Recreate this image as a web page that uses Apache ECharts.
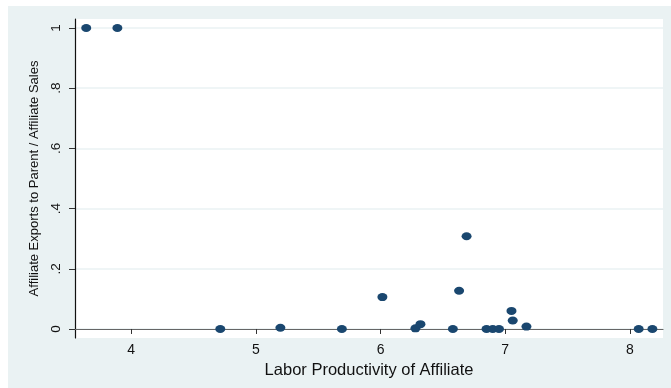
<!DOCTYPE html>
<html><head><meta charset="utf-8">
<script src="https://cdn.jsdelivr.net/npm/echarts@6/dist/echarts.min.js"></script>
<style>html,body{margin:0;padding:0;background:#fff}#c{width:671px;height:388px}</style>
</head><body><div id="c"></div>
<script>
var productivity = [3.64, 3.89, 4.715, 5.197, 5.69, 6.015, 6.28, 6.32, 6.58, 6.63, 6.69, 6.85, 6.90, 6.95, 7.05, 7.06, 7.17, 8.07, 8.18];
var exportShare  = [1.0, 1.0, 0.0, 0.004, 0.0, 0.106, 0.002, 0.016, 0.0, 0.127, 0.308, 0.0, 0.0, 0.0, 0.06, 0.028, 0.008, 0.0, 0.0];
var xTicks = [4, 5, 6, 7, 8];
var yTicks = [0, 0.2, 0.4, 0.6, 0.8, 1];
var yTickLabels = ['0', '.2', '.4', '.6', '.8', '1'];
var xTitle = 'Labor Productivity of Affiliate';
var yTitle = 'Affiliate Exports to Parent / Affiliate Sales';

var points = productivity.map(function (x, i) { return [x, exportShare[i]]; });
var font = '"Liberation Sans", Arial, Helvetica, sans-serif';
var chart = echarts.init(document.getElementById('c'), null, {renderer: 'canvas'});
chart.setOption({
  animation: false,
  backgroundColor: '#ffffff',
  graphic: [{type: 'rect', z: -10, shape: {x: 8, y: 6, width: 663, height: 382}, style: {fill: '#eaf2f3'}}],
  grid: {left: 75, top: 19, right: 8, bottom: 50, show: true, backgroundColor: '#ffffff', borderWidth: 0},
  xAxis: {
    type: 'value', min: 3.55, max: 8.265,
    axisLine: {show: true, lineStyle: {color: '#666', width: 1.2}},
    axisTick: {show: true, length: 5, customValues: xTicks, lineStyle: {color: '#333'}},
    axisLabel: {customValues: xTicks, color: '#111', fontSize: 14, fontFamily: font, margin: 5},
    splitLine: {show: false},
    name: xTitle, nameLocation: 'middle', nameGap: 20,
    nameTextStyle: {color: '#111', fontSize: 16.5, fontFamily: font}
  },
  yAxis: {
    type: 'value', min: -0.03, max: 1.03,
    axisLine: {show: true, lineStyle: {color: '#111', width: 1.2}},
    axisTick: {show: true, length: 6, customValues: yTicks, lineStyle: {color: '#333'}},
    axisLabel: {customValues: yTicks, rotate: 90, color: '#111', fontSize: 13.5, fontFamily: font, margin: 12,
      formatter: function (v) { var i = yTicks.indexOf(Math.round(v * 10) / 10); return i >= 0 ? yTickLabels[i] : ''; }},
    splitLine: {show: true, lineStyle: {color: '#eaf2f3', width: 1.5}},
    name: yTitle, nameLocation: 'middle', nameGap: 32, nameRotate: 90,
    nameTextStyle: {color: '#111', fontSize: 13, fontFamily: font}
  },
  series: [{
    type: 'scatter', data: points, symbol: 'circle', symbolSize: [10, 8],
    itemStyle: {color: '#1a476f', opacity: 1}
  }]
});
</script></body></html>
